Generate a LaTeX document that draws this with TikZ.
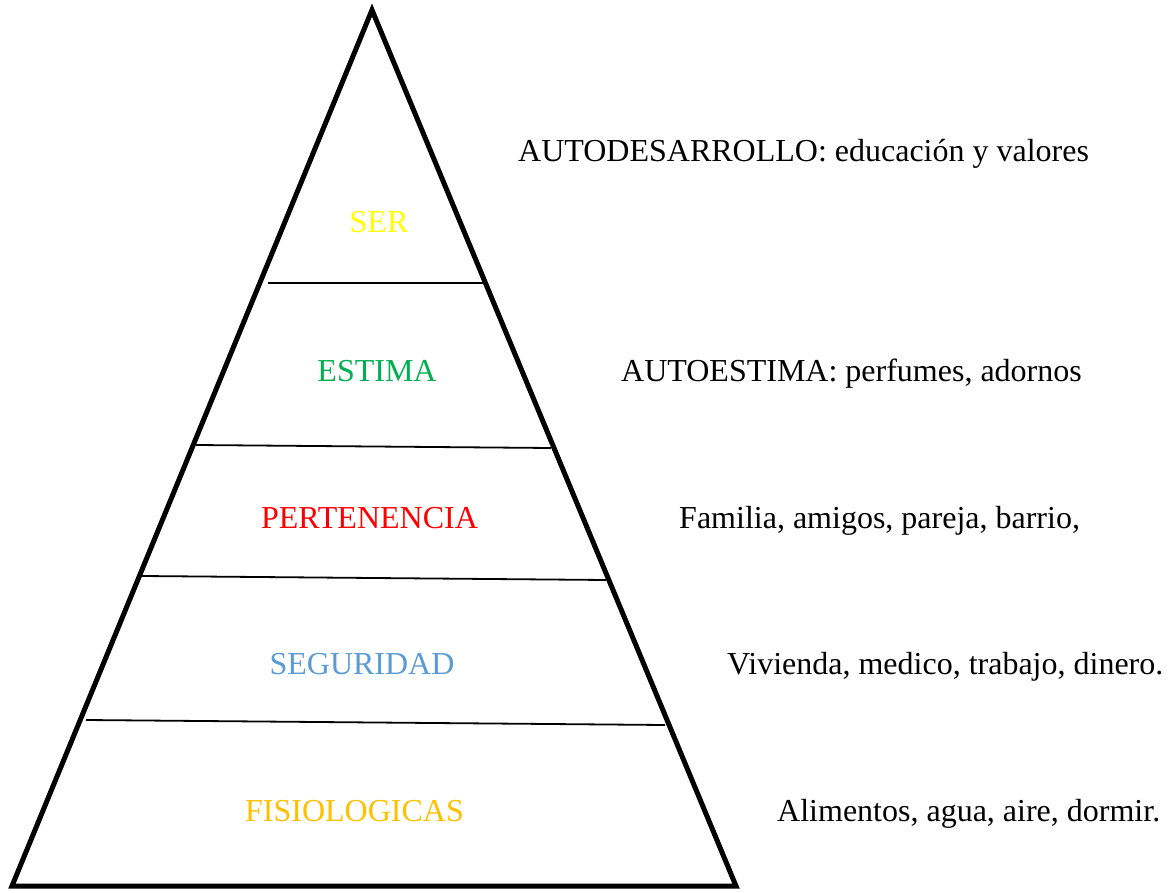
\documentclass[tikz,border=0pt]{standalone}
\usepackage{fontspec}
\setmainfont{Liberation Serif}
\usepackage{tikz}
\usetikzlibrary{positioning}

\definecolor{serYellow}{HTML}{FFFF00}
\definecolor{estimaGreen}{HTML}{00B050}
\definecolor{pertRed}{HTML}{FF0000}
\definecolor{segBlue}{HTML}{5B9BD5}
\definecolor{fisioOrange}{HTML}{FFC000}

\begin{document}
\begin{tikzpicture}[
    x=1pt, y=-1pt,
    outline/.style={line width=5pt, line join=miter, draw=black},
    divider/.style={line width=1.8pt, draw=black},
    level/.style={anchor=base, inner sep=0pt, font=\fontsize{32}{38}\selectfont},
    note/.style={anchor=base west, inner sep=0pt, text=black, font=\fontsize{32}{38}\selectfont}
]
\useasboundingbox (0,0) rectangle (1169,893);

\coordinate (apex) at (372,10);
\coordinate (baseL) at (12,886);
\coordinate (baseR) at (736,886);

\draw [outline] (apex) -- (baseR) -- (baseL) -- cycle;

\draw [divider] (268,283) -- (484,283);
\draw [divider] (196,445) -- (551,448);
\draw [divider] (142,576) -- (606,580);
\draw [divider] (86,720) -- (665,725);

\node (ser) [level, text=serYellow] at (379,233) {SER};
\node (estima) [level, text=estimaGreen] at (377,381) {ESTIMA};
\node (pertenencia) [level, text=pertRed] at (369.5,528) {PERTENENCIA};
\node (seguridad) [level, text=segBlue] at (362,674) {SEGURIDAD};
\node (fisio) [level, text=fisioOrange] at (354.5,821) {FISIOLOGICAS};

\node (serNote) [note] at (518,162) {AUTODESARROLLO: educación y valores};
\node (estimaNote) [note] at (621,381) {AUTOESTIMA: perfumes, adornos};
\node (pertNote) [note] at (679,528) {Familia, amigos, pareja, barrio,};
\node (segNote) [note] at (727,674) {Vivienda, medico, trabajo, dinero.};
\node (fisioNote) [note] at (777,821) {Alimentos, agua, aire, dormir.};

\end{tikzpicture}
\end{document}
